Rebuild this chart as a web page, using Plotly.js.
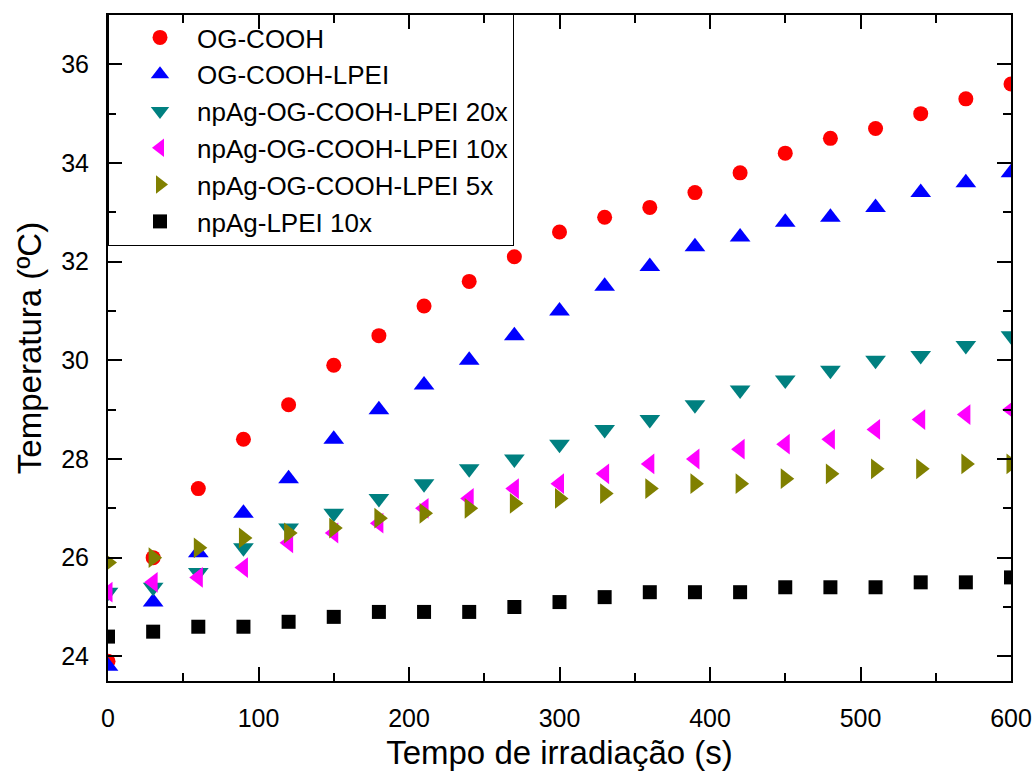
<!DOCTYPE html>
<html>
<head>
<meta charset="utf-8">
<script src="https://cdn.plot.ly/plotly-3.0.1.min.js"></script>
<style>
html, body { margin: 0; padding: 0; background: #fff; }
#chart { width: 1036px; height: 771px; }
</style>
</head>
<body>
<div id="chart"></div>
<script>
const time = [0, 30, 60, 90, 120, 150, 180, 210, 240, 270, 300, 330, 360, 390, 420, 450, 480, 510, 540, 570, 600];

const ogCOOH = [23.9, 26.0, 27.4, 28.4, 29.1, 29.9, 30.5, 31.1, 31.6, 32.1, 32.6, 32.9, 33.1, 33.4, 33.8, 34.2, 34.5, 34.7, 35.0, 35.3, 35.6];
const ogCOOHLPEI = [23.8, 25.1, 26.1, 26.9, 27.6, 28.4, 29.0, 29.5, 30.0, 30.5, 31.0, 31.5, 31.9, 32.3, 32.5, 32.8, 32.9, 33.1, 33.4, 33.6, 33.8];
const npAg20x = [25.3, 25.4, 25.7, 26.2, 26.6, 26.9, 27.2, 27.5, 27.8, 28.0, 28.3, 28.6, 28.8, 29.1, 29.4, 29.6, 29.8, 30.0, 30.1, 30.3, 30.5];
const npAg10x = [25.3, 25.5, 25.6, 25.8, 26.3, 26.5, 26.7, 27.0, 27.2, 27.4, 27.5, 27.7, 27.9, 28.0, 28.2, 28.3, 28.4, 28.6, 28.8, 28.9, 29.0];
const npAg5x = [25.9, 26.0, 26.2, 26.4, 26.5, 26.6, 26.8, 26.9, 27.0, 27.1, 27.2, 27.3, 27.4, 27.5, 27.5, 27.6, 27.7, 27.8, 27.8, 27.9, 27.9];
const npAgLPEI10x = [24.4, 24.5, 24.6, 24.6, 24.7, 24.8, 24.9, 24.9, 24.9, 25.0, 25.1, 25.2, 25.3, 25.3, 25.3, 25.4, 25.4, 25.4, 25.5, 25.5, 25.6];

const seriesNames = ["OG-COOH", "OG-COOH-LPEI", "npAg-OG-COOH-LPEI 20x", "npAg-OG-COOH-LPEI 10x", "npAg-OG-COOH-LPEI 5x", "npAg-LPEI 10x"];
const seriesValues = [ogCOOH, ogCOOHLPEI, npAg20x, npAg10x, npAg5x, npAgLPEI10x];
const seriesColors = ["#FF0000", "#0000FF", "#008080", "#FF00FF", "#808000", "#000000"];
const seriesSymbols = ["circle", "triangle-up", "triangle-down", "triangle-left", "triangle-right", "square"];
const seriesSizes = [15, 18, 18, 18, 18, 14];

const traces = seriesNames.map((name, i) => ({
  type: "scatter",
  mode: "markers",
  name: name,
  x: time,
  y: seriesValues[i],
  marker: { color: seriesColors[i], symbol: seriesSymbols[i], size: seriesSizes[i], line: { width: 0 } },
  cliponaxis: true
}));

const FONT = "Arial, 'Liberation Sans', sans-serif";

const layout = {
  width: 1036,
  height: 771,
  margin: { l: 108, r: 25, t: 15, b: 90, pad: 0 },
  paper_bgcolor: "#ffffff",
  plot_bgcolor: "#ffffff",
  font: { family: FONT, color: "#000000", size: 25 },
  showlegend: true,
  legend: {
    x: 0, xanchor: "left", y: 1.003, yanchor: "top",
    bgcolor: "rgba(255,255,255,0)",
    bordercolor: "#000000", borderwidth: 1,
    font: { family: FONT, size: 26, color: "#000000" },
    itemwidth: 64,
    indentation: 14,
    tracegroupgap: 0
  },
  xaxis: {
    range: [0, 600],
    dtick: 100,
    tick0: 0,
    showgrid: false,
    zeroline: false,
    showline: true,
    linecolor: "#000000",
    linewidth: 2,
    mirror: "allticks",
    ticks: "inside",
    ticklen: 14,
    tickwidth: 2,
    tickcolor: "#000000",
    ticklabelstandoff: 14,
    tickfont: { family: FONT, size: 25, color: "#000000" },
    minor: { dtick: 50, ticks: "inside", ticklen: 8, tickwidth: 2, tickcolor: "#000000", showgrid: false },
    title: { text: "Tempo de irradiação (s)", font: { family: FONT, size: 33, color: "#000000" }, standoff: 14 }
  },
  yaxis: {
    range: [23.5, 37],
    dtick: 2,
    tick0: 24,
    showgrid: false,
    zeroline: false,
    showline: true,
    linecolor: "#000000",
    linewidth: 2,
    mirror: "allticks",
    ticks: "inside",
    ticklen: 14,
    tickwidth: 2,
    tickcolor: "#000000",
    ticklabelstandoff: 12,
    tickfont: { family: FONT, size: 25, color: "#000000" },
    minor: { dtick: 1, ticks: "inside", ticklen: 8, tickwidth: 2, tickcolor: "#000000", showgrid: false },
    title: { text: "Temperatura (ºC)", font: { family: FONT, size: 33, color: "#000000" }, standoff: 10 }
  }
};

Plotly.newPlot("chart", traces, layout, { displayModeBar: false, staticPlot: true });
</script>
</body>
</html>
